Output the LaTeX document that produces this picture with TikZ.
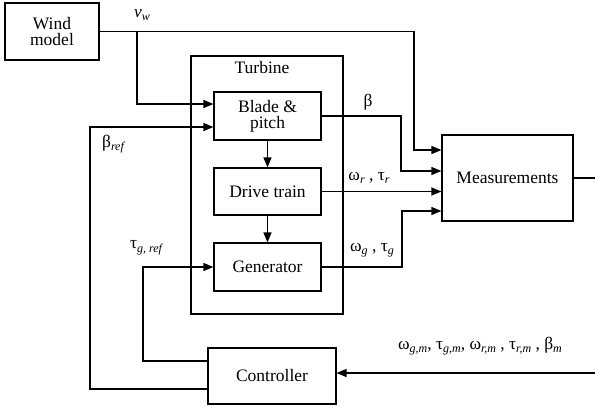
\documentclass[tikz,border=0pt]{standalone}
\usepackage{fontspec}
\setmainfont{Liberation Serif}
\usetikzlibrary{arrows.meta}
\newcommand{\sbs}[1]{\raisebox{-0.45ex}{\fontsize{12}{12}\selectfont\itshape #1}}
\begin{document}
\begin{tikzpicture}[x=1pt,y=-1pt,
  font=\fontsize{17.5}{19}\selectfont,
  blk/.style={draw,line width=1.2pt,inner sep=0pt,align=center},
  conn/.style={line width=1.2pt},
  arr/.style={conn,-{Triangle[length=10pt,width=8pt]}},
  lbl/.style={inner sep=0pt}]
\useasboundingbox (0,0) rectangle (595,408);
% turbine frame
\node[draw,line width=2.2pt,minimum width=152pt,minimum height=258pt,inner sep=0pt] (turb) at (267,185) {};
\node[lbl] (turbl) at (262,68) {Turbine};
% blocks
\node[blk,minimum width=94pt,minimum height=57pt] (wind) at (52,31.5) {Wind\\[-3pt]model};
\node[blk,minimum width=107pt,minimum height=48pt] (blade) at (267.5,116) {Blade \&\\[-3pt]pitch};
\node[blk,minimum width=107pt,minimum height=47pt] (drive) at (267.5,191.5) {Drive train};
\node[blk,minimum width=107pt,minimum height=48pt] (gen) at (267.5,267) {Generator};
\node[blk,minimum width=131pt,minimum height=86pt] (meas) at (507.5,178) {Measurements};
\node[blk,minimum width=128pt,minimum height=56pt] (ctrl) at (272,376) {Controller};
% coordinates
\coordinate (br) at (137,31.5);
\coordinate (rt) at (598,178);
% connectors
\draw[arr] (wind.east) -| (414,150) -- (meas.west |- 0,150);
\draw[arr] (br) |- (blade.west |- 0,104);
\draw[arr] (blade.east) -| (401,171) -- (meas.west |- 0,171);
\draw[arr] (drive.east) -- (drive.east -| meas.west);
\draw[arr] (gen.east) -| (402,211) -- (meas.west |- 0,211);
\draw[arr] (blade) -- (drive);
\draw[arr] (drive) -- (gen);
\draw[arr] (meas.east) -- (rt) |- (ctrl.east |- 0,373);
\draw[arr] (ctrl.west |- 0,361) -| (143,267) -- (gen.west);
\draw[arr] (ctrl.west |- 0,389) -| (90,127) -- (blade.west |- 0,127);
% labels
\node[lbl] (vw) at (142,15) {\textit{v}\sbs{w}};
\node[lbl] (lb) at (368,102) {β};
\node[lbl] (lr) at (369,178) {ω\sbs{r} , τ\sbs{r}};
\node[lbl] (lg) at (372,250) {ω\sbs{g} , τ\sbs{g}};
\node[lbl] (lbr) at (113,144) {β\sbs{ref}};
\node[lbl] (ltr) at (146,248) {τ\sbs{g, ref}};
\node[lbl] (lm) at (480,346) {ω\sbs{g,m}, τ\sbs{g,m}, ω\sbs{r,m} , τ\sbs{r,m} , β\sbs{m}};
\end{tikzpicture}
\end{document}
